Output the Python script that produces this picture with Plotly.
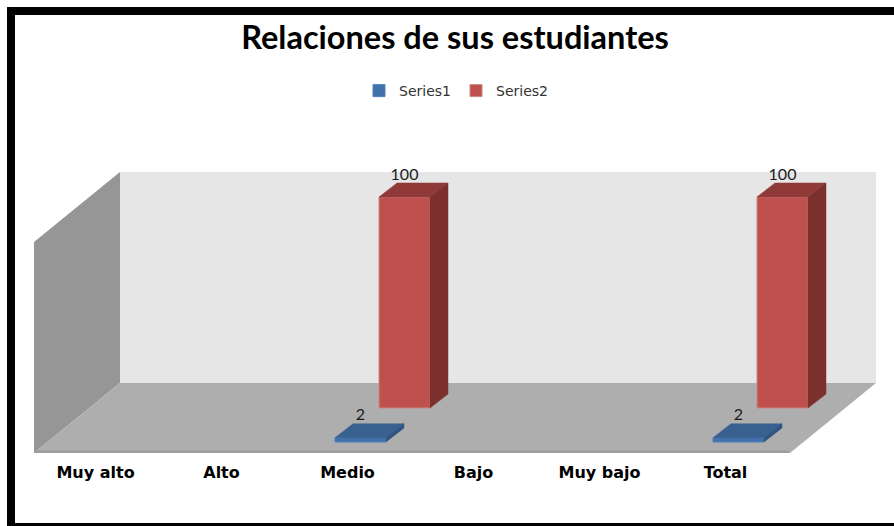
import plotly.graph_objects as go

# ---- data ----
categories = ["Muy alto", "Alto", "Medio", "Bajo", "Muy bajo", "Total"]
series1 = [None, None, 2, None, None, 2]
series2 = [None, None, 100, None, None, 100]
wall_height = 100

# ---- canvas / scale ----
W, H = 894, 526
PLOT_BOTTOM = 454          # px of plot-area bottom
PX_PER_CAT = 126.0
PX_PER_UNIT = 2.11
X_ZERO_PX = 360.5 - 2 * PX_PER_CAT   # px of x=0
Y_ZERO_PX = 442.0                    # px of y=0

xr = [(0 - X_ZERO_PX) / PX_PER_CAT, (W - X_ZERO_PX) / PX_PER_CAT]
yr = [(Y_ZERO_PX - PLOT_BOTTOM) / PX_PER_UNIT, Y_ZERO_PX / PX_PER_UNIT]


def dx(px):
    return px / PX_PER_CAT


def dy(px):
    return px / PX_PER_UNIT


BAR_W = dx(51)
BAR_DX, BAR_DY = dx(18), dy(14)
S2_DX, S2_DY = dx(44), dy(34)
LABEL_UP = dy(21.5)
FLOOR_X0, FLOOR_X1 = (34 - X_ZERO_PX) / PX_PER_CAT, (790 - X_ZERO_PX) / PX_PER_CAT
FLOOR_Y = dy(-11)
ROOM_DX, ROOM_DY = dx(86), dy(70)

fig = go.Figure()


def poly(xs, ys, color, line=None):
    return dict(type="path", xref="x", yref="y", layer="below",
                path="M" + " L".join(f"{a},{b}" for a, b in zip(xs, ys)) + " Z",
                fillcolor=color, line=dict(width=1 if line else 0, color=line or color))


shapes = [
    # back wall
    poly([FLOOR_X0 + ROOM_DX, FLOOR_X1 + ROOM_DX, FLOOR_X1 + ROOM_DX, FLOOR_X0 + ROOM_DX],
         [FLOOR_Y + ROOM_DY, FLOOR_Y + ROOM_DY, FLOOR_Y + ROOM_DY + wall_height, FLOOR_Y + ROOM_DY + wall_height],
         "#E6E6E6"),
    # side wall
    poly([FLOOR_X0, FLOOR_X0 + ROOM_DX, FLOOR_X0 + ROOM_DX, FLOOR_X0],
         [FLOOR_Y, FLOOR_Y + ROOM_DY, FLOOR_Y + ROOM_DY + wall_height, FLOOR_Y + wall_height],
         "#969696"),
    # floor
    poly([FLOOR_X0, FLOOR_X1, FLOOR_X1 + ROOM_DX, FLOOR_X0 + ROOM_DX],
         [FLOOR_Y, FLOOR_Y, FLOOR_Y + ROOM_DY, FLOOR_Y + ROOM_DY],
         "#AEAEAE"),
    # front edge of floor
    poly([FLOOR_X0, FLOOR_X1, FLOOR_X1 - dx(3), FLOOR_X0],
         [FLOOR_Y, FLOOR_Y, FLOOR_Y + dy(2.5), FLOOR_Y + dy(2.5)],
         "#9C9C9C"),
]


def px_rect(x0, y0, x1, y1):
    return dict(type="rect", xref="paper", yref="paper", layer="above",
                x0=x0 / W, x1=x1 / W,
                y0=(PLOT_BOTTOM - y0) / PLOT_BOTTOM, y1=(PLOT_BOTTOM - y1) / PLOT_BOTTOM,
                fillcolor="#000000", line=dict(width=0))


shapes += [px_rect(7, 7, 15, 526), px_rect(7, 7, 894, 15), px_rect(7, 523, 894, 526)]


def add_series(name, values, shift_x, base, front, top, side, edge):
    xs = [i + shift_x for i, v in enumerate(values)]
    fig.add_trace(go.Bar(name=name, x=xs, y=values, base=base, width=BAR_W,
                         marker=dict(color=front, line=dict(color=edge, width=1)),
                         hoverinfo="skip"))
    for x, v in zip(xs, values):
        if v is None:
            continue
        l, r = x - BAR_W / 2, x + BAR_W / 2
        b, t = base, base + v
        fig.add_trace(go.Scatter(x=[l, r, r + BAR_DX, l + BAR_DX, l],
                                 y=[t, t, t + BAR_DY, t + BAR_DY, t],
                                 fill="toself", mode="lines", fillcolor=top,
                                 line=dict(width=0.5, color=top), showlegend=False, hoverinfo="skip"))
        fig.add_trace(go.Scatter(x=[r, r + BAR_DX, r + BAR_DX, r, r],
                                 y=[b, b + BAR_DY, t + BAR_DY, t, b],
                                 fill="toself", mode="lines", fillcolor=side,
                                 line=dict(width=0.5, color=side), showlegend=False, hoverinfo="skip"))
        fig.add_trace(go.Scatter(x=[x], y=[t + LABEL_UP], mode="text", text=[str(v)],
                                 textposition="middle center",
                                 textfont=dict(family="Lato", size=16, color="#1a1a1a"),
                                 showlegend=False, hoverinfo="skip"))


add_series("Series1", series1, 0, 0, "#4172AC", "#38618F", "#2F5480", "#4F81BD")
add_series("Series2", series2, S2_DX, S2_DY, "#C0504D", "#8F3A38", "#7B302E", "#C98684")

fig.update_layout(
    width=W, height=H, autosize=False,
    margin=dict(l=0, r=0, t=0, b=H - PLOT_BOTTOM, pad=0),
    paper_bgcolor="white", plot_bgcolor="rgba(0,0,0,0)",
    barmode="overlay", shapes=shapes, showlegend=True,
    title=dict(text="<b>Relaciones de sus estudiantes</b>", x=455 / W, xanchor="center",
               y=1 - 38 / H, yanchor="middle",
               font=dict(family="Lato", size=32.5, color="#000000")),
    legend=dict(orientation="h", x=359 / W, xanchor="left", y=(PLOT_BOTTOM - 75) / PLOT_BOTTOM, yanchor="top",
                bgcolor="rgba(0,0,0,0)", itemclick=False, itemdoubleclick=False,
                entrywidth=52, entrywidthmode="pixels",
                font=dict(family="DejaVu Sans", size=14, color="#333333")),
    xaxis=dict(range=xr, showgrid=False, zeroline=False, showline=False,
               tickmode="array", tickvals=[i - dx(13) for i in range(len(categories))],
               ticktext=categories, tickangle=0, ticks="outside", ticklen=4, tickcolor="rgba(0,0,0,0)",
               tickfont=dict(family="DejaVu Sans", size=16, weight="bold", color="#000000")),
    yaxis=dict(range=yr, visible=False, showgrid=False, zeroline=False),
)

fig.write_html("out.html", config=dict(displayModeBar=False),
               post_script='document.body.style.margin="0";document.body.style.overflow="hidden";')
